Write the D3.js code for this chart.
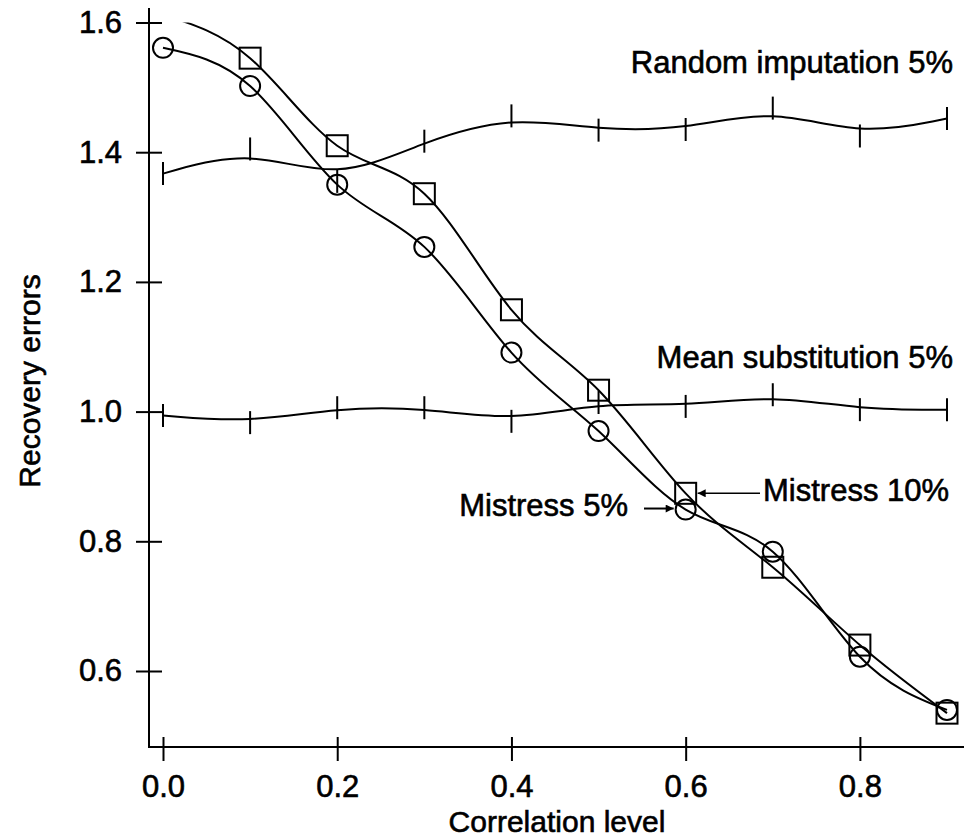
<!DOCTYPE html>
<html>
<head>
<meta charset="utf-8">
<script src="https://cdn.jsdelivr.net/npm/d3@7"></script>
<style>
  body { margin: 0; background: #fff; }
  text { font-family: "Liberation Sans", Arial, Helvetica, sans-serif; fill: #000; stroke: #000; stroke-width: 0.6px; }
</style>
</head>
<body>
<svg id="chart" width="964" height="840"></svg>
<script>
// correlation levels on the x axis
const levels = [0, 0.1, 0.2, 0.3, 0.4, 0.5, 0.6, 0.7, 0.8, 0.9];

// recovery errors
const mistress5 = [1.561, 1.502, 1.350, 1.254, 1.091, 0.970, 0.849, 0.784, 0.622, 0.540];
const mistress10 = [1.612, 1.545, 1.410, 1.336, 1.157, 1.033, 0.874, 0.760, 0.640, 0.535];
const randomImp = [1.367, 1.405, 1.355, 1.417, 1.456, 1.434, 1.435, 1.468, 1.425, 1.452];
const meanSub = [0.994, 0.983, 1.006, 1.006, 0.985, 1.014, 1.008, 1.026, 1.003, 1.003];

const xTicks = [0, 0.2, 0.4, 0.6, 0.8];
const yTicks = [0.6, 0.8, 1.0, 1.2, 1.4, 1.6];

const svg = d3.select("#chart");

const x = d3.scaleLinear().domain([0, 0.9]).range([163, 947]);
const y = d3.scaleLinear().domain([0.6, 1.6]).range([671, 22.5]);

const axisX = 149, axisY = 747;
const fmt = d3.format(".1f");

// arrowhead
svg.append("defs").append("marker")
  .attr("id", "arrow")
  .attr("viewBox", "0 0 10 10")
  .attr("refX", 10).attr("refY", 5)
  .attr("markerWidth", 11).attr("markerHeight", 8)
  .attr("markerUnits", "userSpaceOnUse")
  .attr("orient", "auto")
  .append("path").attr("d", "M0,0L10,5L0,10Z").attr("fill", "#000");

svg.select("defs").append("clipPath").attr("id", "plot")
  .append("rect")
  .attr("x", axisX).attr("y", y(1.6))
  .attr("width", 964 - axisX).attr("height", axisY - y(1.6));

// axes
const gx = svg.append("g").attr("transform", `translate(0,${axisY})`)
  .call(d3.axisBottom(x).tickValues(xTicks).tickFormat(fmt).tickSize(14).tickPadding(14));
gx.select(".domain").remove();
gx.selectAll(".tick line").attr("y1", -10).attr("y2", 14).attr("stroke-width", 2);
gx.selectAll(".tick text").attr("font-size", 31).attr("dy", "0.71em")
  .attr("font-family", "Liberation Sans, Arial, sans-serif");

const gy = svg.append("g").attr("transform", `translate(${axisX},0)`)
  .call(d3.axisLeft(y).tickValues(yTicks).tickFormat(fmt).tickSize(13).tickPadding(14));
gy.select(".domain").remove();
gy.selectAll(".tick line").attr("x1", -13).attr("x2", 13).attr("stroke-width", 2);
gy.selectAll(".tick text").attr("font-size", 31)
  .attr("font-family", "Liberation Sans, Arial, sans-serif");

svg.append("line").attr("x1", axisX).attr("x2", axisX).attr("y1", 8).attr("y2", axisY)
  .attr("stroke", "#000").attr("stroke-width", 2);
svg.append("line").attr("x1", axisX - 1).attr("x2", 964).attr("y1", axisY).attr("y2", axisY)
  .attr("stroke", "#000").attr("stroke-width", 2);

svg.append("text").attr("x", 557).attr("y", 832).attr("text-anchor", "middle")
  .attr("font-size", 30).text("Correlation level");
svg.append("text").attr("transform", "translate(40,381) rotate(-90)")
  .attr("text-anchor", "middle").attr("font-size", 30).text("Recovery errors");

// curves
const plot = svg.append("g").attr("clip-path", "url(#plot)");

const smooth = d3.line().x((d, i) => x(levels[i])).y(d => y(d)).curve(d3.curveBasis);
const through = d3.line().x((d, i) => x(levels[i])).y(d => y(d)).curve(d3.curveNatural);

[[randomImp, smooth], [meanSub, smooth], [mistress5, through], [mistress10, through]]
  .forEach(([vals, gen]) => {
    plot.append("path").attr("d", gen(vals))
      .attr("fill", "none").attr("stroke", "#000").attr("stroke-width", 2);
  });

// vertical tick markers on the baseline methods
[randomImp, meanSub].forEach(vals => {
  svg.append("g").selectAll("line").data(vals).join("line")
    .attr("x1", (d, i) => x(levels[i])).attr("x2", (d, i) => x(levels[i]))
    .attr("y1", d => y(d) - 11.5).attr("y2", d => y(d) + 11.5)
    .attr("stroke", "#000").attr("stroke-width", 2);
});

// circles: Mistress 5%
svg.append("g").selectAll("circle").data(mistress5).join("circle")
  .attr("cx", (d, i) => x(levels[i])).attr("cy", d => y(d)).attr("r", 10)
  .attr("fill", "none").attr("stroke", "#000").attr("stroke-width", 2);

// squares: Mistress 10%
const sq = 21;
svg.append("g").selectAll("rect")
  .data(mistress10.map((v, i) => [levels[i], v]).filter(d => d[1] <= 1.6))
  .join("rect")
  .attr("x", d => x(d[0]) - sq / 2).attr("y", d => y(d[1]) - sq / 2)
  .attr("width", sq).attr("height", sq)
  .attr("fill", "none").attr("stroke", "#000").attr("stroke-width", 2);

// labels
svg.append("text").attr("x", 953).attr("y", 73).attr("text-anchor", "end")
  .attr("font-size", 31).text("Random imputation 5%");
svg.append("text").attr("x", 953).attr("y", 368).attr("text-anchor", "end")
  .attr("font-size", 31).text("Mean substitution 5%");
svg.append("text").attr("x", 628).attr("y", 516).attr("text-anchor", "end")
  .attr("font-size", 31).text("Mistress 5%");
svg.append("text").attr("x", 763).attr("y", 501)
  .attr("font-size", 31).text("Mistress 10%");

svg.append("line").attr("x1", 644).attr("y1", y(mistress5[6]) - 1)
  .attr("x2", x(0.6) - 12).attr("y2", y(mistress5[6]) - 1)
  .attr("stroke", "#000").attr("stroke-width", 2).attr("marker-end", "url(#arrow)");
svg.append("line").attr("x1", 760).attr("y1", y(mistress10[6]))
  .attr("x2", x(0.6) + 12).attr("y2", y(mistress10[6]))
  .attr("stroke", "#000").attr("stroke-width", 1.5).attr("marker-end", "url(#arrow)");
</script>
</body>
</html>
